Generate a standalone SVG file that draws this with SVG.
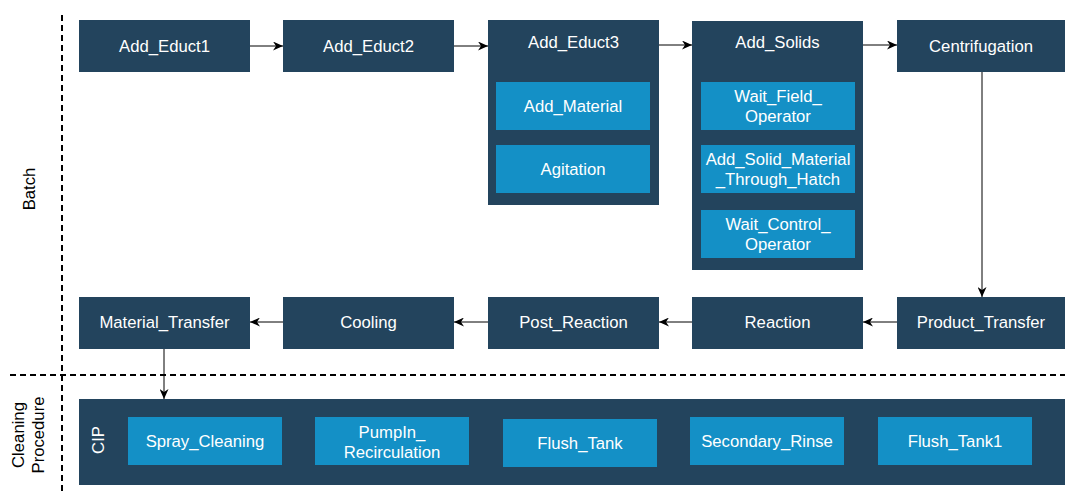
<svg xmlns="http://www.w3.org/2000/svg" width="1065" height="496" viewBox="0 0 1065 496">
  <style>
    text { font-family: "Liberation Sans", Arial, sans-serif; font-size: 16.7px; fill: #ffffff; text-anchor: middle; }
    .lane { fill: #000000; }
    .dark { fill: #23445d; }
    .light { fill: #1490c6; }
    .edge { stroke: #000000; stroke-width: 1; fill: none; marker-end: url(#arrow); }
    .divider { stroke: #000000; stroke-width: 2; stroke-dasharray: 6 4; fill: none; }
  </style>
  <defs>
    <marker id="arrow" markerUnits="userSpaceOnUse" markerWidth="11" markerHeight="9" refX="10" refY="4.5" orient="auto">
      <path d="M0,0 L10,4.5 L0,9 L3,4.5 Z" fill="#000000"/>
    </marker>
  </defs>

  <rect width="1065" height="496" fill="#ffffff"/>

  <!-- swimlane dividers and titles -->
  <g id="lanes">
    <line class="divider" x1="62" y1="15" x2="62" y2="492"/>
    <line class="divider" x1="10" y1="375" x2="1065" y2="375"/>
    <text class="lane" transform="translate(35,189) rotate(-90)">Batch</text>
    <text class="lane" transform="translate(24,435) rotate(-90)">Cleaning</text>
    <text class="lane" transform="translate(44,435) rotate(-90)">Procedure</text>
  </g>

  <!-- batch: top row -->
  <g id="add-educt1">
    <rect class="dark" x="79" y="20" width="171" height="52"/>
    <text x="164.5" y="51.5">Add_Educt1</text>
  </g>
  <g id="add-educt2">
    <rect class="dark" x="283" y="20" width="171" height="52"/>
    <text x="368.5" y="51.5">Add_Educt2</text>
  </g>
  <g id="add-educt3">
    <rect class="dark" x="488" y="20" width="171" height="185"/>
    <text x="573.5" y="47.5">Add_Educt3</text>
    <g id="add-material">
      <rect class="light" x="496" y="82" width="154" height="48"/>
      <text x="573" y="111.5">Add_Material</text>
    </g>
    <g id="agitation">
      <rect class="light" x="496" y="145" width="154" height="48"/>
      <text x="573" y="174.5">Agitation</text>
    </g>
  </g>
  <g id="add-solids">
    <rect class="dark" x="692" y="21" width="171" height="249"/>
    <text x="777.5" y="47.5">Add_Solids</text>
    <g id="wait-field-operator">
      <rect class="light" x="701" y="82" width="154" height="48"/>
      <text x="778" y="101.5">Wait_Field_</text>
      <text x="778" y="122">Operator</text>
    </g>
    <g id="add-solid-material">
      <rect class="light" x="701" y="145" width="154" height="48"/>
      <text x="778" y="164.5">Add_Solid_Material</text>
      <text x="778" y="185">_Through_Hatch</text>
    </g>
    <g id="wait-control-operator">
      <rect class="light" x="701" y="210" width="154" height="48"/>
      <text x="778" y="229.5">Wait_Control_</text>
      <text x="778" y="250">Operator</text>
    </g>
  </g>
  <g id="centrifugation">
    <rect class="dark" x="897" y="20" width="171" height="52"/>
    <text x="981" y="51.5">Centrifugation</text>
  </g>

  <!-- batch: bottom row -->
  <g id="product-transfer">
    <rect class="dark" x="897" y="297" width="171" height="52"/>
    <text x="981" y="328">Product_Transfer</text>
  </g>
  <g id="reaction">
    <rect class="dark" x="692" y="297" width="171" height="52"/>
    <text x="777.5" y="328">Reaction</text>
  </g>
  <g id="post-reaction">
    <rect class="dark" x="488" y="297" width="171" height="52"/>
    <text x="573.5" y="328">Post_Reaction</text>
  </g>
  <g id="cooling">
    <rect class="dark" x="283" y="297" width="171" height="52"/>
    <text x="368.5" y="328">Cooling</text>
  </g>
  <g id="material-transfer">
    <rect class="dark" x="79" y="297" width="171" height="52"/>
    <text x="164.5" y="328">Material_Transfer</text>
  </g>

  <!-- cleaning procedure -->
  <g id="cip">
    <rect class="dark" x="79" y="399" width="990" height="86"/>
    <text transform="translate(104,440) rotate(-90)">CIP</text>
    <g id="spray-cleaning">
      <rect class="light" x="128" y="417" width="154" height="48"/>
      <text x="205" y="447">Spray_Cleaning</text>
    </g>
    <g id="pumpin-recirculation">
      <rect class="light" x="315" y="417" width="154" height="48"/>
      <text x="392" y="437.5">PumpIn_</text>
      <text x="392" y="457.5">Recirculation</text>
    </g>
    <g id="flush-tank">
      <rect class="light" x="503" y="419" width="154" height="48"/>
      <text x="580" y="449">Flush_Tank</text>
    </g>
    <g id="secondary-rinse">
      <rect class="light" x="690" y="417" width="154" height="48"/>
      <text x="767" y="447">Secondary_Rinse</text>
    </g>
    <g id="flush-tank1">
      <rect class="light" x="878" y="417" width="154" height="48"/>
      <text x="955" y="447">Flush_Tank1</text>
    </g>
  </g>

  <!-- connectors -->
  <g id="connectors">
    <line class="edge" x1="250" y1="46" x2="283" y2="46"/>
    <line class="edge" x1="454" y1="46" x2="488" y2="46"/>
    <line class="edge" x1="659" y1="45" x2="692" y2="45"/>
    <line class="edge" x1="863" y1="45" x2="897" y2="45"/>
    <line class="edge" x1="982" y1="72" x2="982" y2="297"/>
    <line class="edge" x1="897" y1="322" x2="863" y2="322"/>
    <line class="edge" x1="692" y1="322" x2="659" y2="322"/>
    <line class="edge" x1="488" y1="322" x2="454" y2="322"/>
    <line class="edge" x1="283" y1="322" x2="250" y2="322"/>
    <line class="edge" x1="164" y1="349" x2="164" y2="399"/>
  </g>
</svg>
